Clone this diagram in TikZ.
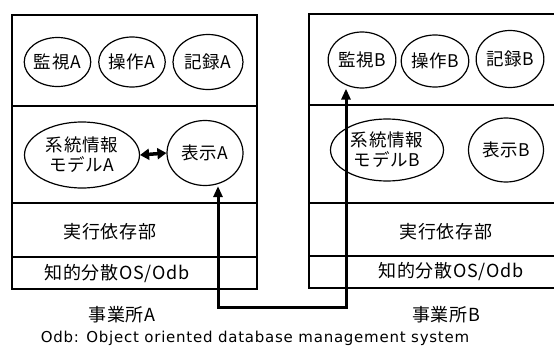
\documentclass[tikz,border=0pt]{standalone}
\usepackage{fontspec}
\setmainfont{Noto Sans CJK JP}[LetterSpace=4]
\newfontfamily\notefont{DejaVu Sans}[LetterSpace=5]
\usetikzlibrary{shapes.geometric,arrows.meta,calc}
\begin{document}
\begin{tikzpicture}[x=1pt,y=-1pt,
  frame/.style={line width=1.5pt},
  divider/.style={line width=1.2pt},
  ell/.style={ellipse,draw,line width=1.2pt,inner sep=0pt,align=center,font=\fontsize{17.5}{20}\selectfont},
  lbl/.style={font=\fontsize{18}{20}\selectfont,inner sep=0pt},
  conn/.style={line width=3pt,{Triangle[length=11pt,width=9pt]}-{Triangle[length=11pt,width=9pt]}},
  dbl/.style={line width=3.5pt,{Triangle[length=9pt,width=11pt]}-{Triangle[length=9pt,width=11pt]}}]
\useasboundingbox (0,0) rectangle (554,351);
\fill[white] (0,0) rectangle (554,351);
% Box A
\draw[frame] (12,15) rectangle (257,289);
\draw[divider] (12,106) -- (257,106);
\draw[divider] (12,203) -- (257,203);
\draw[divider] (12,257) -- (257,257);
% Box B
\draw[frame] (309,14) rectangle (570,288);
\draw[divider] (309,105) -- (570,105);
\draw[divider] (309,203) -- (570,203);
\draw[divider] (309,256) -- (570,256);
% Ellipses A
\node[ell,minimum width=61pt,minimum height=49pt] (monA) at (57.5,62) {監視A};
\node[ell,minimum width=64pt,minimum height=50pt] (opA) at (132,62) {操作A};
\node[ell,minimum width=70pt,minimum height=55pt] (recA) at (208,62) {記録A};
\node[ell,minimum width=115pt,minimum height=66pt] (sysA) at (82,155) {系統情報\\モデルA};
\node[ell,minimum width=76pt,minimum height=65pt] (dispA) at (205,153) {表示A};
% Ellipses B
\node[ell,minimum width=67pt,minimum height=56pt] (monB) at (362,60) {監視B};
\node[ell,minimum width=64pt,minimum height=52pt] (opB) at (435,61) {操作B};
\node[ell,minimum width=62pt,minimum height=57pt] (recB) at (510,59) {記録B};
\node[ell,minimum width=113pt,minimum height=62pt] (sysB) at (387,150) {系統情報\\モデルB};
\node[ell,minimum width=75pt,minimum height=64pt] (dispB) at (506,150) {表示B};
% Labels
\node[lbl] (execA) at (110,232) {実行依存部};
\node[lbl] (osA) at (117,274) {知的分散OS/Odb};
\node[lbl] (siteA) at (122,315) {事業所A};
\node[lbl] (execB) at (446,232) {実行依存部};
\node[lbl] (osB) at (451,272) {知的分散OS/Odb};
\node[lbl] (siteB) at (446,315) {事業所B};
\node[inner sep=0pt,font=\notefont\fontsize{15}{17}\selectfont] (note) at (255,338) {Odb: Object oriented database management system};
% Connectors
\draw[dbl] (sysA.east) -- (dispA.west);
\coordinate (jA) at (218,307);
\coordinate (jB) at (346,307);
\draw[conn,line join=miter] (dispA.south -| jA) -- (jA) -- (jB) -- (monB.south -| jB);
\end{tikzpicture}
\end{document}
